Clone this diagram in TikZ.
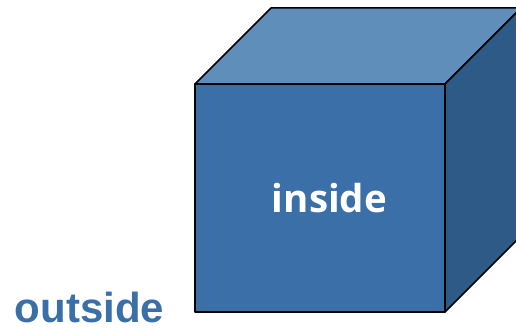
\documentclass[tikz,border=0pt]{standalone}
\usepackage{fontspec}
\setmainfont{Liberation Sans}
\newfontfamily\labelfont{Open Sans}
\usepackage{tikz}
\usetikzlibrary{calc,positioning}

\definecolor{facefront}{HTML}{3A6FA7}
\definecolor{facetop}{HTML}{5F8EBB}
\definecolor{faceside}{HTML}{2D5A87}
\definecolor{outsidetext}{HTML}{3A6FA7}

\begin{document}
\begin{tikzpicture}[x=1pt, y=1pt, line join=round,
    face/.style={draw=black, line width=1.5pt}]
    % picture frame
    \clip (0,0) rectangle (516,328);

    % Cube corners (front face, then the back ones)
    \coordinate (FTL) at (195,244);
    \coordinate (FTR) at (445,244);
    \coordinate (FBR) at (445,16);
    \coordinate (FBL) at (195,16);
    \coordinate (BTL) at (271,320);
    \coordinate (BTR) at (521,320);
    \coordinate (BBR) at (521,92);

    % Faces
    \filldraw[face, fill=facetop] (FTL) -- (BTL) -- (BTR) -- (FTR) -- cycle;
    \filldraw[face, fill=faceside] (FTR) -- (BTR) -- (BBR) -- (FBR) -- cycle;
    \filldraw[face, fill=facefront] (FTL) -- (FTR) -- (FBR) -- (FBL) -- cycle;

    % Labels
    \node[anchor=base, inner sep=0pt, text=white, font=\labelfont\bfseries\fontsize{38.5}{44}\selectfont] (inside) at (329.5,115) {inside};
    \node[anchor=base east, inner sep=0pt, text depth=0pt, text=outsidetext, font=\bfseries\fontsize{42}{48}\selectfont] (outside) at (164.5,5.5) {outside};
\end{tikzpicture}
\end{document}
